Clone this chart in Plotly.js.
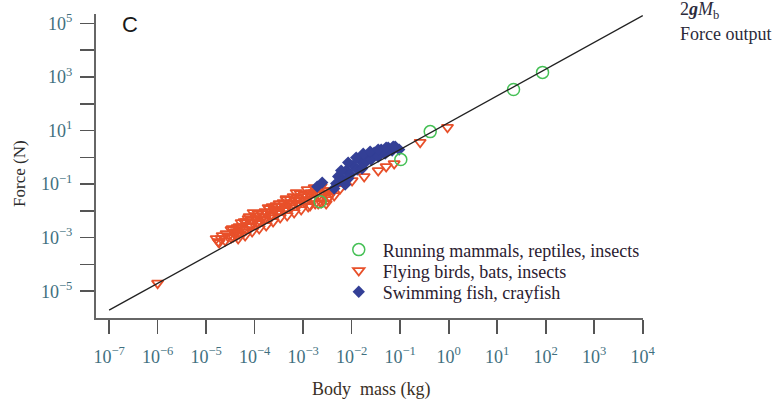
<!DOCTYPE html>
<html>
<head>
<meta charset="utf-8">
<script src="https://cdn.plot.ly/plotly-3.0.1.min.js"></script>
<style>html,body{margin:0;padding:0;background:#fff;}#chart{width:776px;height:405px;}</style>
</head>
<body>
<div id="chart"></div>
<script>
// Running mammals, reptiles, insects
const massRun = [2.24e-3, 0.103, 0.416, 21.7, 86];
const forceRun = [0.0219, 0.82, 9.1, 339, 1480];

// Flying birds, bats, insects
const massFly = [1.0e-6, 0.258, 0.944,
  1.61e-5, 1.85e-5, 2.14e-5, 2.47e-5, 2.84e-5, 3.44e-5, 3.61e-5, 4.16e-5, 4.57e-5, 5.27e-5,
  5.79e-5, 6.37e-5, 7.35e-5, 8.07e-5, 8.87e-5, 1.02e-4, 1.13e-4, 1.24e-4, 1.43e-4, 1.57e-4,
  1.73e-4, 1.99e-4, 2.19e-4, 2.40e-4, 2.77e-4, 3.05e-4, 3.36e-4, 3.87e-4, 4.26e-4, 4.68e-4,
  5.40e-4, 5.93e-4, 6.52e-4, 7.52e-4, 8.28e-4, 9.10e-4, 1.05e-3, 1.15e-3, 1.27e-3, 1.46e-3,
  1.61e-3, 1.77e-3, 2.04e-3, 2.35e-3, 2.71e-3, 3.13e-3, 3.78e-3, 4.36e-3, 9.31e-5, 4.46e-4,
  6.68e-5, 4.79e-5,
  3.27e-5, 3.27e-5, 4.36e-5, 4.36e-5, 6.08e-5, 6.08e-5, 8.47e-5, 8.47e-5, 1.18e-4, 1.18e-4,
  1.64e-4, 1.64e-4, 2.30e-4, 2.30e-4, 3.20e-4, 3.20e-4, 4.46e-4, 4.46e-4, 6.22e-4, 6.22e-4,
  8.67e-4, 8.67e-4, 1.21e-3, 1.21e-3, 1.69e-3, 1.69e-3, 2.35e-3, 2.35e-3,
  7.71e-5, 1.90e-4, 7.18e-4, 1.39e-3, 2.04e-3, 2.98e-3,
  3.78e-5, 4.79e-5, 5.52e-5, 6.68e-5, 9.31e-5, 1.07e-4, 1.30e-4, 1.50e-4, 1.81e-4, 2.09e-4,
  2.52e-4, 2.91e-4, 3.52e-4, 4.06e-4, 4.91e-4, 5.66e-4, 6.84e-4, 7.89e-4, 9.53e-4, 1.10e-3,
  1.33e-3, 1.53e-3, 1.85e-3, 2.14e-3, 2.58e-3, 3.44e-3, 4.16e-3, 2.58e-5, 2.04e-5, 1.77e-5,
  3.27e-3, 5.79e-3, 1.02e-2, 1.81e-2, 3.52e-2, 5.14e-2, 7.52e-2];
const forceFly = [2.0e-5, 3.63, 13.2,
  9.25e-4, 6.56e-4, 1.20e-3, 7.80e-4, 1.10e-3, 2.19e-3, 1.10e-3, 1.69e-3, 9.25e-4, 3.66e-3,
  2.00e-3, 1.20e-3, 5.15e-3, 2.82e-3, 1.69e-3, 6.67e-3, 3.66e-3, 2.19e-3, 7.93e-3, 4.73e-3,
  2.82e-3, 1.22e-2, 7.28e-3, 3.98e-3, 1.58e-2, 9.42e-3, 5.62e-3, 2.04e-2, 1.22e-2, 6.67e-3,
  2.64e-2, 1.58e-2, 8.65e-3, 3.13e-2, 1.87e-2, 1.12e-2, 4.06e-2, 2.42e-2, 1.45e-2, 4.82e-2,
  2.88e-2, 1.87e-2, 5.25e-2, 3.13e-2, 4.42e-2, 2.64e-2, 4.82e-2, 3.72e-2, 8.65e-3, 2.88e-2,
  3.98e-3, 2.59e-3,
  2.00e-3, 1.01e-3, 2.38e-3, 1.31e-3, 3.99e-3, 1.69e-3, 4.73e-3, 2.59e-3, 7.93e-3, 3.36e-3,
  9.42e-3, 5.16e-3, 1.45e-2, 6.68e-3, 1.87e-2, 1.03e-2, 2.64e-2, 1.33e-2, 3.42e-2, 1.87e-2,
  4.43e-2, 2.64e-2, 6.24e-2, 3.42e-2, 7.40e-2, 4.82e-2, 8.07e-2, 2.04e-2,
  6.12e-3, 1.33e-2, 4.82e-2, 1.58e-2, 1.87e-2, 1.87e-2,
  1.55e-3, 1.42e-3, 2.59e-3, 2.00e-3, 3.66e-3, 5.16e-3, 3.99e-3, 6.12e-3, 7.93e-3, 5.62e-3,
  1.03e-2, 7.93e-3, 1.45e-2, 1.03e-2, 1.87e-2, 1.33e-2, 2.42e-2, 1.72e-2, 3.42e-2, 2.04e-2,
  4.06e-2, 2.64e-2, 4.43e-2, 4.06e-2, 5.71e-2, 3.42e-2, 5.71e-2, 1.42e-3, 9.25e-4, 7.14e-4,
  5.71e-2, 6.79e-2, 0.135, 0.191, 0.319, 0.450, 0.582];

// Swimming fish, crayfish
const massSwim = [1.95e-3, 2.47e-3, 4.79e-3, 5.27e-3, 6.68e-3, 7.71e-3, 9.31e-3, 1.07e-2,
  1.30e-2, 1.50e-2, 1.81e-2, 2.09e-2, 2.52e-2, 2.91e-2, 3.52e-2, 4.06e-2, 4.91e-2, 5.66e-2,
  6.84e-2, 7.89e-2, 9.53e-2, 8.47e-3, 1.64e-2,
  6.08e-3, 8.47e-3, 1.24e-2, 1.73e-2, 2.40e-2, 3.52e-2, 5.14e-2, 7.18e-2, 4.36e-3, 7.35e-3];
const forceSwim = [8.07e-2, 0.114, 0.104, 0.191, 0.147, 0.319, 0.226, 0.490,
  0.348, 0.753, 0.582, 1.06, 0.820, 1.50, 1.06, 1.94, 1.37, 2.30,
  1.78, 2.51, 1.94, 0.160, 0.379,
  0.319, 0.634, 0.975, 1.37, 1.63, 1.94, 2.30, 2.51, 6.79e-2, 9.58e-2];

// 2 g Mb line
const fitMass = [1e-7, 1e4];
const fitForce = [1.962e-6, 1.962e5];

const xTickVals = [1e-7, 1e-6, 1e-5, 1e-4, 1e-3, 1e-2, 1e-1, 1e0, 1e1, 1e2, 1e3, 1e4];
const xTickText = ['10<sup>−7</sup>', '10<sup>−6</sup>', '10<sup>−5</sup>', '10<sup>−4</sup>',
  '10<sup>−3</sup>', '10<sup>−2</sup>', '10<sup>−1</sup>', '10<sup>0</sup>', '10<sup>1</sup>',
  '10<sup>2</sup>', '10<sup>3</sup>', '10<sup>4</sup>'];
const yTickVals = [1e-5, 1e-4, 1e-3, 1e-2, 1e-1, 1e0, 1e1, 1e2, 1e3, 1e4, 1e5];
const yTickText = ['10<sup>−5</sup>', '', '10<sup>−3</sup>', '', '10<sup>−1</sup>', '',
  '10<sup>1</sup>', '', '10<sup>3</sup>', '', '10<sup>5</sup>'];

const serif = 'Liberation Serif, Times New Roman, serif';
const tickColor = '#3f7080';

const traces = [
  {x: massFly, y: forceFly, type: 'scatter', mode: 'markers', name: 'Flying birds, bats, insects',
   legend: 'legend2',
   marker: {symbol: 'triangle-down-open', size: 10, color: '#e8502a', line: {width: 1.8, color: '#e8502a'}}},
  {x: massSwim, y: forceSwim, type: 'scatter', mode: 'markers', name: 'Swimming fish, crayfish',
   legend: 'legend3',
   marker: {symbol: 'diamond', size: 9.5, color: '#333f96', line: {width: 0}}},
  {x: massRun, y: forceRun, type: 'scatter', mode: 'markers', name: 'Running mammals, reptiles, insects',
   legend: 'legend',
   marker: {symbol: 'circle-open', size: 12, color: '#45c055', line: {width: 1.5, color: '#45c055'}}},
  {x: fitMass, y: fitForce, type: 'scatter', mode: 'lines', showlegend: false,
   line: {color: '#222', width: 1.3}, cliponaxis: false}
];

const legendBase = {xanchor: 'left', yanchor: 'middle', bgcolor: 'rgba(0,0,0,0)', borderwidth: 0,
  itemwidth: 38, font: {family: serif, size: 18, color: '#2a2030'}};

const layout = {
  width: 776, height: 405,
  margin: {l: 96, r: 133, t: 14, b: 87},
  paper_bgcolor: '#fff', plot_bgcolor: '#fff',
  xaxis: {type: 'log', range: [-7.27, 4.005], showgrid: false, zeroline: false,
    showline: true, linecolor: '#666', linewidth: 2,
    ticks: 'outside', ticklen: 14, tickwidth: 1.6, tickcolor: '#555',
    tickvals: xTickVals, ticktext: xTickText, ticklabelstandoff: 7,
    tickfont: {family: serif, size: 18, color: tickColor}},
  yaxis: {type: 'log', range: [-6.0, 5.35], showgrid: false, zeroline: false,
    showline: true, linecolor: '#666', linewidth: 2,
    ticks: 'outside', ticklen: 14, tickwidth: 1.6, tickcolor: '#555',
    tickvals: yTickVals, ticktext: yTickText, ticklabelstandoff: 4,
    tickfont: {family: serif, size: 18, color: tickColor}},
  legend: Object.assign({x: 0.4365, y: 0.224}, legendBase),
  legend2: Object.assign({x: 0.4365, y: 0.155}, legendBase),
  legend3: Object.assign({x: 0.4365, y: 0.0855}, legendBase),
  annotations: [
    {text: 'C', xref: 'paper', yref: 'paper', x: 0.062, y: 0.967, xanchor: 'center', yanchor: 'middle',
     showarrow: false, font: {family: 'Liberation Sans, Arial, sans-serif', size: 22, color: '#1a1a1a'}},
    {text: '2<b><i>g</i></b><i>M</i><sub>b</sub>', xref: 'paper', yref: 'paper', x: 1.064, y: 1.010,
     xanchor: 'left', yanchor: 'middle', showarrow: false,
     font: {family: serif, size: 18, color: '#2b2a3a'}},
    {text: 'Force output', xref: 'paper', yref: 'paper', x: 1.064, y: 0.934,
     xanchor: 'left', yanchor: 'middle', showarrow: false,
     font: {family: serif, size: 18, color: '#2b2a3a'}},
    {text: 'Force (N)', xref: 'paper', yref: 'paper', x: -0.139, y: 0.477, textangle: -90,
     xanchor: 'center', yanchor: 'middle', showarrow: false,
     font: {family: serif, size: 17, color: '#2a2a2a'}},
    {text: 'Body\u00a0 mass (kg)', xref: 'paper', yref: 'paper', x: 0.503, y: -0.2336,
     xanchor: 'center', yanchor: 'middle', showarrow: false,
     font: {family: serif, size: 18, color: '#3a3025'}}
  ]
};

Plotly.newPlot('chart', traces, layout, {displayModeBar: false, staticPlot: true});
</script>
</body>
</html>
